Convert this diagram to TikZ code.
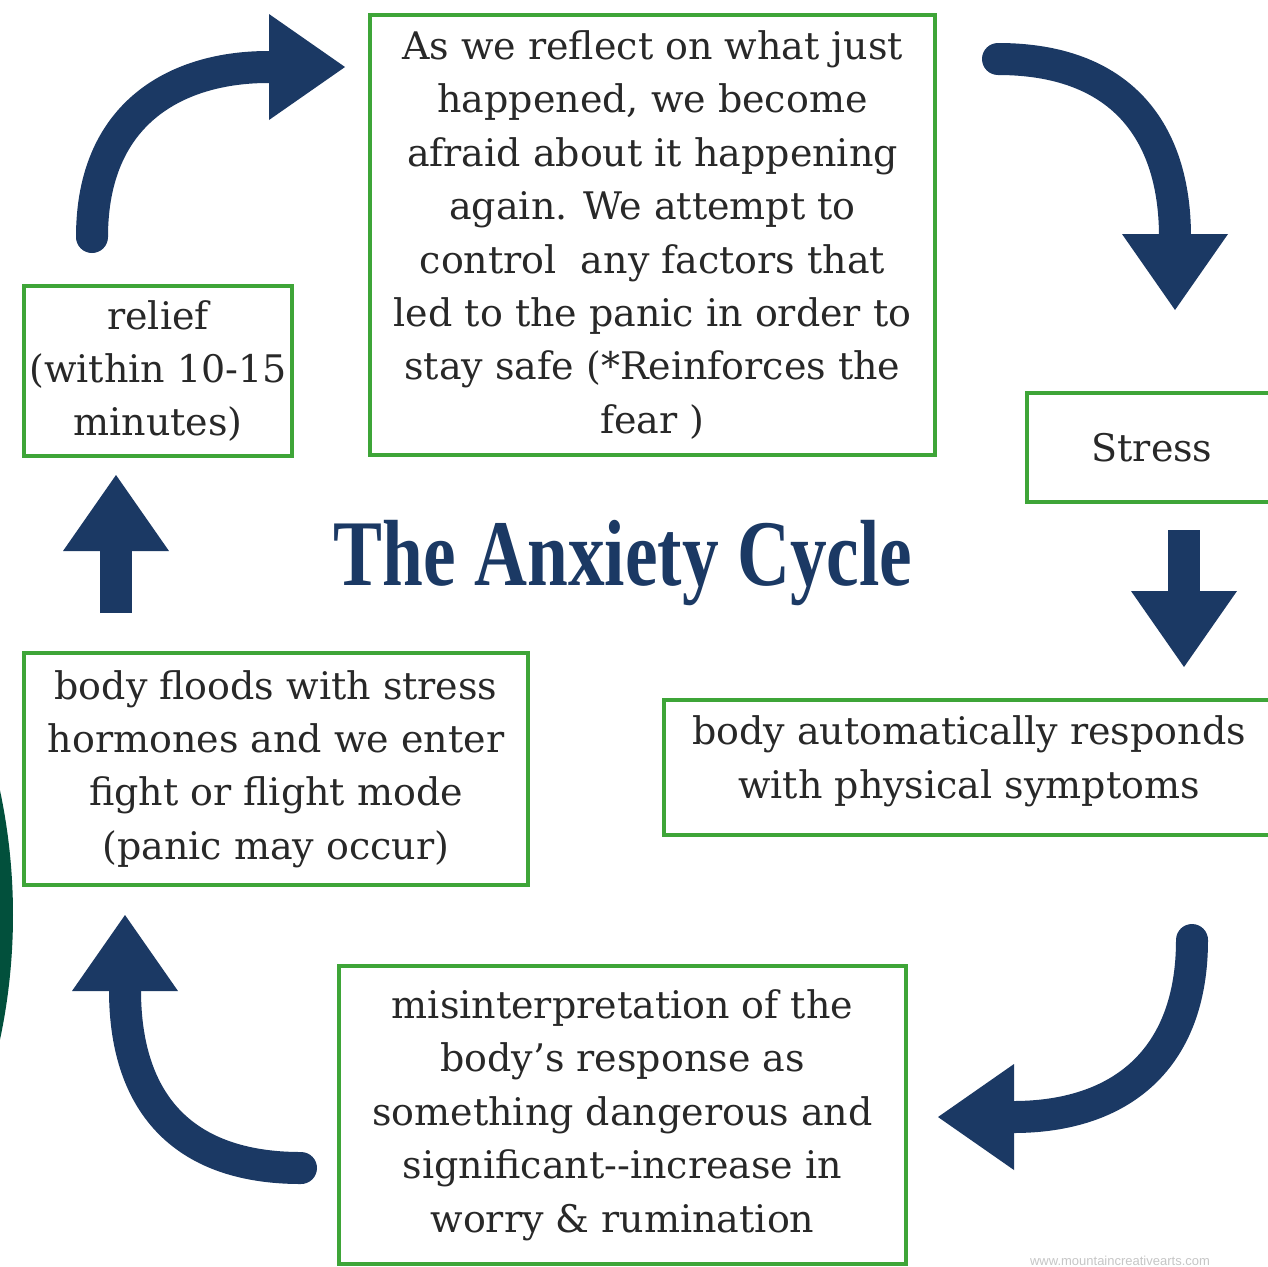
\documentclass[tikz,border=0pt]{standalone}
\usepackage{fontspec}
\setmainfont{DejaVu Serif}
\newfontfamily\titlefont{Liberation Serif}
\newfontfamily\markfont{Liberation Sans}
\usetikzlibrary{arrows.meta}
\definecolor{cyclenavy}{RGB}{27,57,100}
\definecolor{boxgreen}{RGB}{62,165,56}
\definecolor{textgrey}{RGB}{40,40,40}
\definecolor{edgegreen}{RGB}{2,80,60}
\tikzset{
  stage/.style={draw=boxgreen, line width=2pt, text=textgrey, align=center,
    font=\fontsize{19}{26.7}\selectfont, inner sep=0pt},
  flow/.style={draw=cyclenavy, line width=16pt, line cap=round,
    -{Triangle[length=38pt,width=53pt,line width=0pt]}},
  shaft/.style={flow, line cap=butt},
}
\begin{document}
\begin{tikzpicture}[x=0.5pt,y=-0.5pt]
        \useasboundingbox (0,0) rectangle (1268,1266);
        \clip (0,0) rectangle (1268,1266);
        \fill[white] (0,0) rectangle (1268,1266);
        \fill[edgegreen] (-585,915) circle[radius=598];

        \node[stage, minimum width=282.5pt, minimum height=220pt] (reflect) at (652.5,235)
          {As we reflect on what just\\happened, we become\\afraid about it happening\\again. We attempt to\\control\ \ any factors that\\led to the panic in order to\\stay safe (*Reinforces the\\fear )};
        \node[stage, minimum width=134pt, minimum height=85pt] (relief) at (158,371)
          {relief\\(within 10-15\\minutes)};
        \node[stage, minimum width=125pt, minimum height=54.5pt] (stress) at (1152,447.5) {Stress};
        \node[stage, minimum width=305pt, minimum height=67.5pt, text depth=10.5pt] (respond) at (969,767.5)
          {body automatically responds\\with physical symptoms};
        \node[stage, minimum width=283.5pt, minimum height=149pt] (misread) at (622.5,1115)
          {misinterpretation of the\\body's response as\\something dangerous and\\significant{-}{-}increase in\\worry \& rumination};
        \node[stage, minimum width=252pt, minimum height=116pt] (floods) at (276,769)
          {body floods with stress\\hormones and we enter\\fight or flight mode\\(panic may occur)};

        \node[text=cyclenavy, font=\titlefont\bfseries\fontsize{47}{47}\selectfont, anchor=base] (title) at (623,585)
          {\scalebox{0.78}[1]{The Anxiety Cycle}};
        \node[text=gray!45, font=\markfont\fontsize{6.5}{6.5}\selectfont] (site) at (1120,1261) {www.mountaincreativearts.com};

        % arrows round the cycle
        \coordinate (a1) at (92,237);   \coordinate (a1tip) at (345,67);
        \coordinate (b1) at (998,59);   \coordinate (b1tip) at (1175,310);
        \coordinate (c1) at (1184,530); \coordinate (c1tip) at (1184,667);
        \coordinate (d1) at (1192,940); \coordinate (d1tip) at (938,1117);
        \coordinate (e1) at (301,1168); \coordinate (e1tip) at (125,915);
        \coordinate (f1) at (116,613);  \coordinate (f1tip) at (116,475);

        \draw[flow] (a1) .. controls (92,110) and (180,67) .. (268,67) -- (a1tip);
        \draw[flow] (b1) .. controls (1120,59) and (1175,130) .. (1175,237) -- (b1tip);
        \draw[shaft] (c1) -- (c1tip);
        \draw[flow] (d1) .. controls (1192,1060) and (1120,1117) .. (1013,1117) -- (d1tip);
        \draw[flow] (e1) .. controls (180,1168) and (125,1100) .. (125,990) -- (e1tip);
        \draw[shaft] (f1) -- (f1tip);
\end{tikzpicture}
\end{document}
